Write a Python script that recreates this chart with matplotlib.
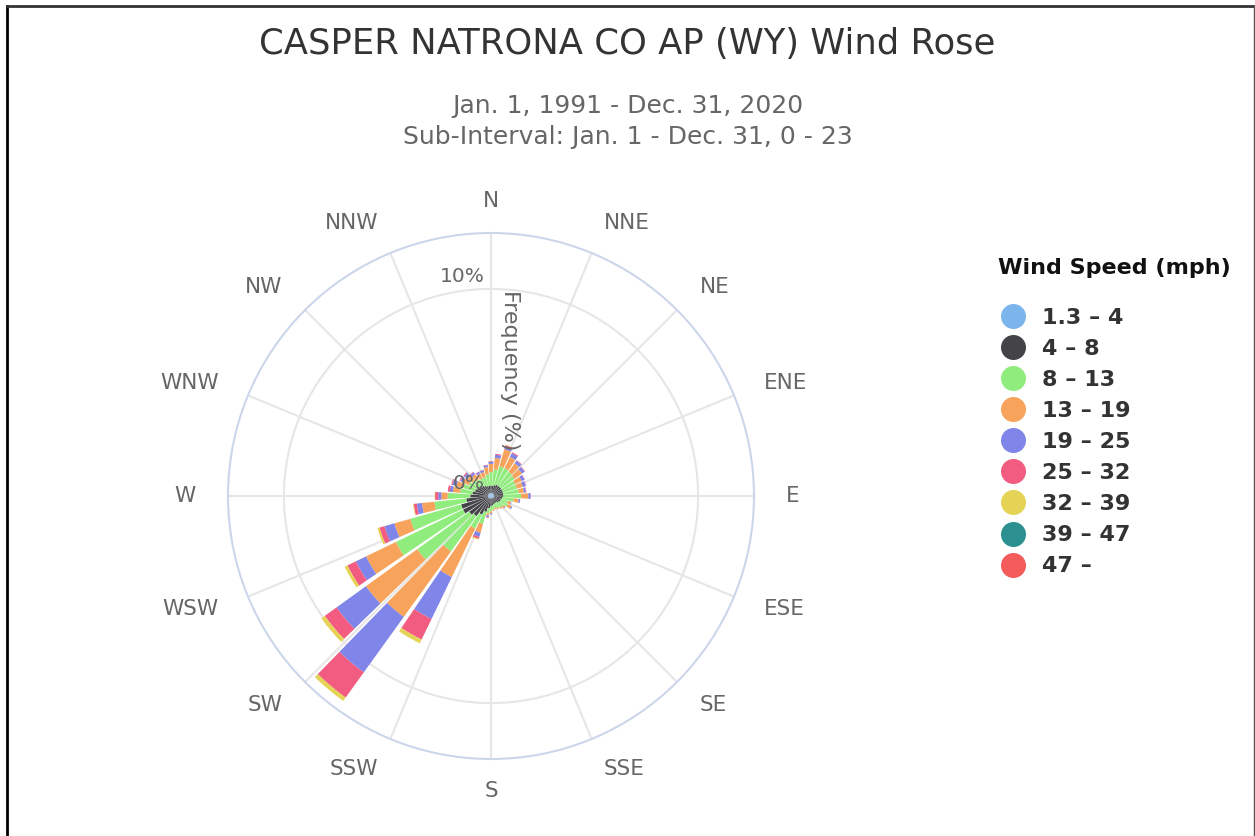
import numpy as np
import matplotlib
matplotlib.use("Agg")
import matplotlib.pyplot as plt
from matplotlib.lines import Line2D

plt.rcParams['font.family'] = ['DejaVu Sans']

# wind directions (degrees, every 10)
directions = list(range(0, 360, 10))

speed_bins = ["1.3 – 4", "4 – 8", "8 – 13", "13 – 19", "19 – 25",
              "25 – 32", "32 – 39", "39 – 47", "47 –"]
colors = ["#7cb5ec", "#434348", "#90ed7d", "#f7a35c", "#8085e9",
          "#f15c80", "#e4d354", "#2b908f", "#f45b5b"]

# frequency (%) of each speed bin per direction
s_1_4 = [0.15, 0.15, 0.15, 0.15, 0.15, 0.15, 0.15, 0.15, 0.15, 0.15,
         0.15, 0.15, 0.15, 0.15, 0.12, 0.12, 0.12, 0.12, 0.12, 0.12,
         0.12, 0.15, 0.15, 0.15, 0.15, 0.15, 0.15, 0.15, 0.15, 0.15,
         0.15, 0.15, 0.15, 0.15, 0.15, 0.15]
s_4_8 = [0.35, 0.35, 0.40, 0.45, 0.45, 0.45, 0.45, 0.45, 0.45, 0.45,
         0.40, 0.35, 0.35, 0.30, 0.28, 0.28, 0.28, 0.33, 0.38, 0.48,
         0.68, 0.85, 1.05, 1.15, 1.35, 1.35, 1.05, 0.85, 0.75, 0.65,
         0.60, 0.55, 0.45, 0.40, 0.35, 0.35]
s_8_13 = [0.65, 0.80, 0.95, 0.90, 0.85, 0.80, 0.70, 0.70, 0.75, 0.85,
          0.55, 0.35, 0.40, 0.30, 0.30, 0.25, 0.20, 0.20, 0.25, 0.25,
          0.60, 0.75, 2.10, 3.10, 3.60, 2.55, 1.55, 1.10, 0.60, 0.60,
          0.45, 0.40, 0.40, 0.40, 0.45, 0.55]
s_13_19 = [0.40, 0.55, 0.85, 0.60, 0.50, 0.45, 0.35, 0.30, 0.25, 0.35,
           0.25, 0.15, 0.20, 0.10, 0.08, 0.07, 0.06, 0.07, 0.10, 0.10,
           0.45, 2.60, 3.90, 3.05, 1.60, 0.80, 0.60, 0.30, 0.35, 0.35,
           0.30, 0.30, 0.30, 0.25, 0.25, 0.35]
s_19_25 = [0.10, 0.15, 0.10, 0.20, 0.15, 0.15, 0.15, 0.15, 0.10, 0.10,
           0.07, 0.03, 0.05, 0.03, 0.00, 0.00, 0.00, 0.00, 0.05, 0.07,
           0.20, 2.25, 3.30, 1.75, 0.55, 0.50, 0.25, 0.15, 0.15, 0.20,
           0.15, 0.20, 0.12, 0.10, 0.10, 0.10]
s_25_32 = [0.03, 0.05, 0.10, 0.05, 0.03, 0.03, 0.02, 0.02, 0.02, 0.02,
           0.00, 0.00, 0.00, 0.00, 0.00, 0.00, 0.00, 0.00, 0.00, 0.04,
           0.10, 1.10, 1.50, 0.70, 0.45, 0.25, 0.15, 0.15, 0.10, 0.05,
           0.05, 0.05, 0.03, 0.02, 0.02, 0.02]
s_32_39 = [0.01, 0.00, 0.02, 0.00, 0.00, 0.00, 0.00, 0.00, 0.00, 0.00,
           0.00, 0.00, 0.00, 0.00, 0.00, 0.00, 0.00, 0.00, 0.00, 0.00,
           0.05, 0.20, 0.20, 0.20, 0.15, 0.10, 0.03, 0.02, 0.00, 0.00,
           0.00, 0.00, 0.00, 0.00, 0.00, 0.00]
s_39_47 = [0.0] * 36
s_47 = [0.0] * 36

series = [s_1_4, s_4_8, s_8_13, s_13_19, s_19_25, s_25_32, s_32_39, s_39_47, s_47]

compass = ["N", "NNE", "NE", "ENE", "E", "ESE", "SE", "SSE",
           "S", "SSW", "SW", "WSW", "W", "WNW", "NW", "NNW"]

rmax = 12.7

fig = plt.figure(figsize=(12.55, 8.36), dpi=100)
ax = fig.add_axes([228 / 1255, (836 - 496 - 263) / 836, 526 / 1255, 526 / 836],
                  projection="polar")
ax.set_theta_zero_location("N")
ax.set_theta_direction(-1)

theta = np.deg2rad(directions)
width = np.deg2rad(8.4)
bottom = np.zeros(len(directions))
for vals, c in zip(series, colors):
    vals = np.array(vals)
    ax.bar(theta, vals, width=width, bottom=bottom, color=c, edgecolor="none", zorder=3)
    bottom += vals

ax.set_ylim(0, rmax)
ax.set_yticks([10])
ax.set_yticklabels([])
ax.set_xticks(np.deg2rad(np.arange(0, 360, 22.5)))
ax.set_xticklabels([])
ax.grid(True, color="#e6e6e6", lw=1.5, zorder=0)
ax.spines["polar"].set_color("#ccd6eb")
ax.spines["polar"].set_linewidth(1.5)
ax.set_facecolor("white")

# compass labels
for i, lab in enumerate(compass):
    ang = np.deg2rad(i * 22.5)
    s, c = np.sin(ang), np.cos(ang)
    if abs(s) < 0.01:
        ha = "center"
    elif s > 0:
        ha = "left"
    else:
        ha = "right"
    ax.annotate(lab, xy=(ang, rmax), xytext=(32 * s, 32 * c), textcoords="offset pixels",
                ha=ha, va="center", fontsize=15.5, color="#666666", annotation_clip=False)

# radial labels
for r, lab in [(0, "0%"), (10, "10%")]:
    ax.annotate(lab, xy=(0, r), xytext=(-6, 3), textcoords="offset pixels",
                ha="right", va="bottom", fontsize=14.5, color="#666666", zorder=5)
ax.annotate("Frequency (%)", xy=(0, rmax / 2), xytext=(19, -6), textcoords="offset pixels",
            ha="center", va="center", rotation=-90, fontsize=16, color="#666666", zorder=5)

fig.text(0.5, 1 - 44 / 836, "CASPER NATRONA CO AP (WY) Wind Rose", ha="center", va="center",
         fontsize=25.5, color="#333333")
fig.text(0.5, 1 - 106 / 836, "Jan. 1, 1991 - Dec. 31, 2020", ha="center", va="center",
         fontsize=18, color="#666666")
fig.text(0.5, 1 - 137 / 836, "Sub-Interval: Jan. 1 - Dec. 31, 0 - 23", ha="center", va="center",
         fontsize=18, color="#666666")

# legend
fig.text(998 / 1255, 1 - 268 / 836, "Wind Speed (mph)", ha="left", va="center",
         fontsize=16, fontweight="bold", color="#111111")
handles = [Line2D([], [], marker="o", ls="", markersize=18, markerfacecolor=c,
                  markeredgecolor="none") for c in colors]
fig.legend(handles, speed_bins, loc="upper left", bbox_to_anchor=(986 / 1255, 1 - 292 / 836),
           frameon=False, prop={"weight": "bold", "size": 16}, labelcolor="#333333",
           handlelength=1.0, handletextpad=0.82, labelspacing=0.5, borderpad=0.2)

# page border
fig.add_artist(Line2D([7 / 1255, 7 / 1255], [0, 1 - 6 / 836], transform=fig.transFigure,
                      color="black", lw=2))
fig.add_artist(Line2D([7 / 1255, 1254 / 1255], [1 - 6 / 836, 1 - 6 / 836],
                      transform=fig.transFigure, color="#333333", lw=2))
fig.add_artist(Line2D([1254 / 1255, 1254 / 1255], [0, 1 - 6 / 836], transform=fig.transFigure,
                      color="#555555", lw=1))

fig.savefig("out.png", dpi=100)
